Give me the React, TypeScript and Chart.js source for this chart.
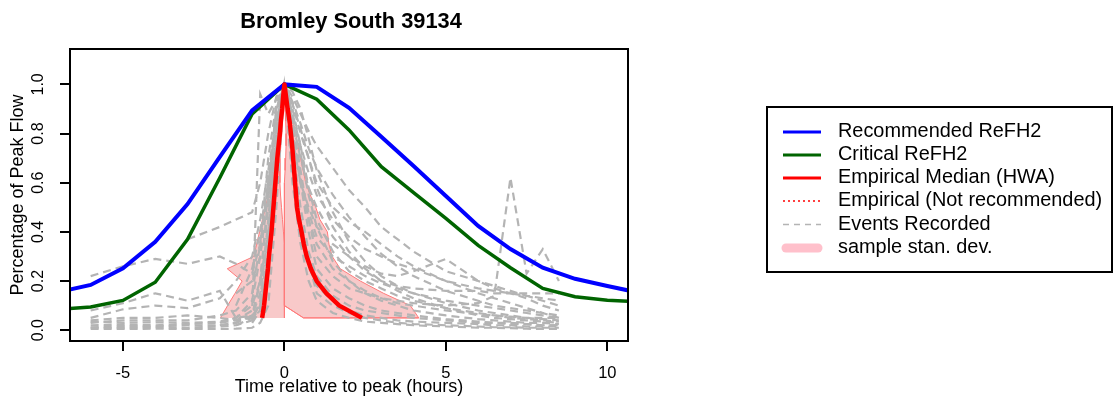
import React, { useEffect, useRef } from "react";
import { Chart, registerables } from "chart.js";

Chart.register(...registerables);

const FONT = "'Liberation Sans', Arial, Helvetica, sans-serif";

// ---- text ----
const chartTitle = "Bromley South 39134";
const xAxisTitle = "Time relative to peak (hours)";
const yAxisTitle = "Percentage of Peak Flow";
const xTicks = [-5, 0, 5, 10];
const xTickLabels = ["-5", "0", "5", "10"];
const yTicks = [0, 0.2, 0.4, 0.6, 0.8, 1.0];
const yTickLabels = ["0.0", "0.2", "0.4", "0.6", "0.8", "1.0"];
const legendLabels = [
  "Recommended ReFH2",
  "Critical ReFH2",
  "Empirical Median (HWA)",
  "Empirical (Not recommended)",
  "Events Recorded",
  "sample stan. dev.",
];

// ---- ReFH2 hydrographs ----
const refhHours = [-7, -6, -5, -4, -3, -2, -1, 0, 1, 2, 3, 4, 5, 6, 7, 8, 9, 10, 11];
const recommendedRefh2 = [0.155, 0.184, 0.252, 0.36, 0.513, 0.705, 0.894, 1.0, 0.99, 0.905, 0.787, 0.668, 0.546, 0.424, 0.33, 0.254, 0.209, 0.18, 0.152];
const criticalRefh2 = [0.085, 0.094, 0.121, 0.195, 0.37, 0.62, 0.88, 1.0, 0.94, 0.815, 0.665, 0.56, 0.455, 0.345, 0.254, 0.17, 0.136, 0.122, 0.115];

// ---- empirical median (width at each flow level) ----
const levels = [0.05, 0.1, 0.15, 0.2, 0.25, 0.3, 0.35, 0.4, 0.45, 0.5, 0.55, 0.6, 0.65, 0.7, 0.75, 0.8, 0.85, 0.9, 0.95, 1.0];
const medianLeft = [-0.69, -0.63, -0.59, -0.55, -0.51, -0.48, -0.44, -0.4, -0.37, -0.34, -0.31, -0.28, -0.25, -0.22, -0.18, -0.14, -0.11, -0.07, -0.04, 0];
const medianRight = [2.4, 1.7, 1.3, 1.0, 0.82, 0.69, 0.6, 0.53, 0.45, 0.39, 0.36, 0.33, 0.3, 0.27, 0.24, 0.2, 0.16, 0.1, 0.05, 0];
const sdLeftOuter = [-1.98, -1.76, -1.53, -1.31, -1.77, -0.95, -0.86, -0.77, -0.68, -0.59, -0.5, -0.42, -0.36, -0.3, -0.25, -0.2, -0.15, -0.1, -0.05, 0];
const sdLeftInner = [0, 0, 0, 0, 0, 0, 0, -0.03, -0.06, -0.09, -0.12, -0.14, -0.14, -0.14, -0.11, -0.08, -0.07, -0.04, -0.02, 0];
const sdRightOuter = [4.16, 3.9, 3.07, 2.35, 1.73, 1.48, 1.38, 1.33, 1.1, 0.97, 0.8, 0.66, 0.58, 0.5, 0.42, 0.35, 0.27, 0.18, 0.1, 0];
const sdRightInner = [0.59, 0, 0, 0, 0, 0, 0, 0, 0, 0, 0, 0, 0.02, 0.04, 0.05, 0.05, 0.04, 0.02, 0.01, 0];

// ---- recorded events ----
const eventHours = [-6, -5, -4, -3, -2, -1.5, -1, -0.75, -0.5, -0.25, 0, 0.25, 0.5, 0.75, 1, 1.5, 2, 2.5, 3, 3.5, 4, 5, 6, 6.5, 7, 7.5, 8, 8.5];
const event01 = [0.01, 0.01, 0.012, 0.01, 0.015, 0.02, 0.04, 0.12, 0.45, 0.85, 1, 0.7, 0.45, 0.28, 0.15, 0.1, 0.07, 0.05, 0.04, 0.03, 0.025, 0.02, 0.015, 0.012, 0.012, 0.01, 0.01, 0.01];
const event02 = [0.02, 0.022, 0.02, 0.025, 0.03, 0.04, 0.08, 0.96, 0.88, 0.94, 1, 0.82, 0.6, 0.4, 0.25, 0.17, 0.13, 0.1, 0.08, 0.07, 0.06, 0.045, 0.035, 0.03, 0.03, 0.025, 0.02, 0.02];
const event03 = [0.035, 0.03, 0.032, 0.03, 0.035, 0.05, 0.1, 0.2, 0.4, 0.75, 1, 0.9, 0.75, 0.58, 0.45, 0.32, 0.24, 0.2, 0.17, 0.14, 0.12, 0.09, 0.07, 0.06, 0.05, 0.045, 0.04, 0.035];
const event04 = [0.05, 0.085, 0.1, 0.09, 0.13, 0.2, 0.3, 0.45, 0.65, 0.85, 1, 0.92, 0.8, 0.7, 0.6, 0.5, 0.44, 0.4, 0.35, 0.3, 0.26, 0.2, 0.15, 0.13, 0.11, 0.09, 0.07, 0.05];
const event05 = [0.22, 0.26, 0.29, 0.27, 0.3, 0.27, 0.23, 0.35, 0.6, 0.88, 1, 0.85, 0.7, 0.58, 0.5, 0.38, 0.3, 0.24, 0.2, 0.18, 0.17, 0.16, 0.16, 0.15, 0.15, 0.15, 0.15, 0.15];
const event06 = [null, null, null, 0.37, 0.42, 0.45, 0.48, 0.6, 0.8, 0.95, 1, 0.88, 0.75, 0.64, 0.55, 0.45, 0.38, 0.33, 0.3, 0.27, 0.25, 0.2, 0.17, 0.16, 0.15, 0.14, 0.12, 0.1];
const event07 = [0.08, 0.11, 0.15, 0.12, 0.16, 0.05, 0.06, 0.1, 0.35, 0.7, 1, 0.75, 0.5, 0.32, 0.22, 0.14, 0.1, 0.08, 0.07, 0.06, 0.05, 0.04, 0.03, 0.03, 0.025, 0.025, 0.02, 0.02];
const event08 = [null, null, null, null, 0.02, 0.03, 0.06, 0.15, 0.4, 0.8, 1, 0.8, 0.6, 0.45, 0.35, 0.25, 0.2, 0.16, 0.13, 0.12, 0.11, 0.1, 0.11, 0.14, 0.62, 0.23, 0.33, 0.2];
const event09 = [null, null, null, null, null, 0.1, 0.25, 0.4, 0.6, 0.85, 1, 0.95, 0.88, 0.81, 0.75, 0.66, 0.57, 0.5, 0.42, 0.37, 0.32, 0.24, 0.2, 0.18, 0.16, 0.14, 0.13, 0.12];
const event10 = [null, null, null, null, 0.03, 0.05, 0.12, 0.3, 0.6, 0.9, 1, 0.78, 0.6, 0.5, 0.42, 0.35, 0.3, 0.26, 0.23, 0.22, 0.24, 0.29, 0.2, 0.17, 0.15, 0.13, 0.1, 0.08];
const event11 = [0.04, 0.05, 0.05, 0.06, 0.05, 0.04, 0.05, 0.08, 0.25, 0.6, 1, 0.6, 0.35, 0.2, 0.12, 0.07, 0.05, 0.035, 0.03, 0.025, 0.02, 0.015, 0.01, 0.01, 0.008, 0.006, 0.005, 0.005];
const event12 = [null, null, null, null, null, 0.02, 0.05, 0.2, 0.5, 0.8, 1, 0.85, 0.65, 0.45, 0.3, 0.22, 0.17, 0.15, 0.13, 0.11, 0.1, 0.08, 0.065, 0.06, 0.055, 0.05, 0.05, 0.05];
const event13 = [0.005, 0.005, 0.006, 0.005, 0.005, 0.006, 0.01, 0.03, 0.1, 0.5, 1, 0.65, 0.4, 0.26, 0.18, 0.12, 0.08, 0.06, 0.05, 0.04, 0.035, 0.03, 0.025, 0.02, 0.02, 0.015, 0.015, 0.015];
const event14 = [null, null, null, null, null, null, 0.03, 0.08, 0.3, 0.7, 1, 0.8, 0.62, 0.48, 0.38, 0.3, 0.26, 0.22, 0.19, 0.17, 0.15, 0.12, 0.1, 0.09, 0.08, 0.07, 0.06, 0.05];
const event15 = [0.012, 0.015, 0.015, 0.02, 0.02, 0.03, 0.06, 0.2, 0.55, 0.9, 1, 0.92, 0.82, 0.7, 0.58, 0.42, 0.32, 0.25, 0.2, 0.16, 0.13, 0.09, 0.06, 0.05, 0.045, 0.04, 0.035, 0.03];
const event16 = [null, null, null, null, null, null, 0.04, 0.1, 0.25, 0.65, 1, 0.97, 0.9, 0.78, 0.65, 0.48, 0.36, 0.28, 0.22, 0.18, 0.15, 0.11, 0.08, 0.07, 0.06, 0.05, 0.045, 0.04];
const event17 = [0.03, 0.04, 0.04, 0.04, 0.06, 0.08, 0.15, 0.35, 0.7, 0.92, 1, 0.88, 0.72, 0.55, 0.42, 0.28, 0.2, 0.15, 0.12, 0.1, 0.08, 0.06, 0.045, 0.04, 0.035, 0.03, 0.03, 0.025];
const event18 = [null, null, null, null, null, 0.15, 0.2, 0.3, 0.55, 0.82, 1, 0.93, 0.84, 0.74, 0.66, 0.55, 0.46, 0.38, 0.31, 0.26, 0.22, 0.16, 0.12, 0.1, 0.09, 0.08, 0.07, 0.06];
const events = [event01, event02, event03, event04, event05, event06, event07, event08, event09, event10, event11, event12, event13, event14, event15, event16, event17, event18];

// ---- axis ranges ----
const xMin = -6.64;
const xMax = 10.64;
const yMin = -0.044;
const yMax = 1.144;

type P = { x: number; y: number };
const pairs = (xs: (number | null)[], ys: (number | null)[]): P[] =>
  xs
    .map((x, i) => ({ x: x as number, y: ys[i] as number }))
    .filter((p) => p.x !== null && p.y !== null && p.x !== undefined && p.y !== undefined);

const COLORS = {
  blue: "#0000FF",
  green: "#006400",
  red: "#FF0000",
  grey: "#B4B4B4",
  pinkFill: "rgba(235,100,100,0.35)",
  pinkEdge: "#FF7A7A",
  pinkLegend: "#FFC0CB",
};

const decorPlugin = {
  id: "decor",
  afterDatasetsDraw(chart: any) {
    const { ctx, chartArea: a } = chart;
    ctx.save();
    ctx.strokeStyle = "#000";
    ctx.lineWidth = 2;
    ctx.strokeRect(a.left, a.top, a.right - a.left, a.bottom - a.top);
    ctx.restore();
  },
  afterDraw(chart: any) {
    const { ctx, chartArea: a } = chart;
    ctx.save();
    // title
    ctx.fillStyle = "#000";
    ctx.font = `bold 21.8px ${FONT}`;
    ctx.textAlign = "center";
    ctx.textBaseline = "alphabetic";
    ctx.fillText(chartTitle, (a.left + a.right) / 2 + 2, 28);

    // legend
    const bx = 767, by = 107, bw = 345, bh = 165;
    ctx.strokeStyle = "#000";
    ctx.lineWidth = 2;
    ctx.strokeRect(bx, by, bw, bh);
    const rowY = [132, 155, 178, 201, 224.5, 248];
    const x0 = 783, x1 = 821;
    const styles = [
      { color: COLORS.blue, width: 3, dash: [] as number[], cap: "butt" },
      { color: COLORS.green, width: 3, dash: [], cap: "butt" },
      { color: COLORS.red, width: 3, dash: [], cap: "butt" },
      { color: COLORS.red, width: 1.5, dash: [2, 3], cap: "butt" },
      { color: COLORS.grey, width: 1.5, dash: [6, 5], cap: "butt" },
      { color: COLORS.pinkLegend, width: 9, dash: [], cap: "round" },
    ];
    styles.forEach((s, i) => {
      ctx.beginPath();
      ctx.strokeStyle = s.color;
      ctx.lineWidth = s.width;
      ctx.setLineDash(s.dash);
      ctx.lineCap = s.cap;
      if (s.cap === "round") {
        ctx.moveTo(x0 + 3, rowY[i]);
        ctx.lineTo(x1 - 3, rowY[i]);
      } else {
        ctx.moveTo(x0, rowY[i]);
        ctx.lineTo(x1, rowY[i]);
      }
      ctx.stroke();
    });
    ctx.setLineDash([]);
    ctx.fillStyle = "#000";
    ctx.font = `19.9px ${FONT}`;
    ctx.textAlign = "left";
    ctx.textBaseline = "middle";
    legendLabels.forEach((t, i) => ctx.fillText(t, 838, rowY[i]));
    ctx.restore();
  },
};

export default function App() {
  const ref = useRef<HTMLCanvasElement>(null);

  useEffect(() => {
    const medianPts: P[] = [
      ...pairs(medianLeft, levels),
      ...pairs(medianRight, levels).reverse().slice(1),
    ];
    const leftPoly: P[] = [
      ...pairs(sdLeftOuter, levels),
      ...pairs(sdLeftInner, levels).reverse(),
    ];
    const rInner = pairs(sdRightInner, levels);
    const rOuter = pairs(sdRightOuter, levels);
    const rightPoly: P[] = [
      rInner[1],
      rInner[0],
      rOuter[0],
      ...rOuter.slice(1),
      ...rInner.slice(1).reverse().slice(1),
      rInner[1],
      rInner[0],
      rOuter[0],
    ];

    const base = { pointRadius: 0, pointHoverRadius: 0, tension: 0, fill: false };

    const datasets: any[] = [
      { ...base, label: legendLabels[2], data: medianPts, borderColor: COLORS.red, borderWidth: 4.5, order: 0, borderJoinStyle: "round" },
      { ...base, label: legendLabels[0], data: pairs(refhHours, recommendedRefh2), borderColor: COLORS.blue, borderWidth: 4, order: 1 },
      { ...base, label: legendLabels[1], data: pairs(refhHours, criticalRefh2), borderColor: COLORS.green, borderWidth: 3.5, order: 2 },
      ...events.map((ev, i) => ({
        ...base,
        label: `${legendLabels[4]} ${i + 1}`,
        data: pairs(eventHours, ev),
        borderColor: COLORS.grey,
        borderWidth: 2.2,
        borderDash: [8, 5],
        order: 3,
      })),
      { ...base, label: legendLabels[5], data: leftPoly, borderColor: COLORS.pinkEdge, backgroundColor: COLORS.pinkFill, borderWidth: 1, fill: "shape", order: 4 },
      { ...base, label: legendLabels[5] + " (right)", data: rightPoly, borderColor: COLORS.pinkEdge, backgroundColor: COLORS.pinkFill, borderWidth: 1, fill: "shape", order: 4 },
    ];

    const chart = new Chart(ref.current as HTMLCanvasElement, {
      type: "line",
      data: { datasets },
      plugins: [decorPlugin],
      options: {
        animation: false,
        responsive: false,
        devicePixelRatio: 1,
        events: [],
        layout: { padding: { left: 0, top: 49, right: 488, bottom: 0 } },
        plugins: {
          legend: { display: false },
          title: { display: false },
          tooltip: { enabled: false },
        },
        scales: {
          x: {
            type: "linear",
            position: "bottom",
            min: xMin,
            max: xMax,
            border: { display: false },
            grid: { display: true, drawOnChartArea: false, drawTicks: true, tickLength: 10, color: "#000", lineWidth: 2 },
            afterBuildTicks: (s: any) => {
              s.ticks = xTicks.map((v) => ({ value: v }));
            },
            afterFit: (s: any) => {
              s.height = 69;
            },
            ticks: {
              color: "#000",
              font: { family: FONT, size: 16.5 },
              padding: 13,
              maxRotation: 0,
              minRotation: 0,
              callback: (v: any) => {
                const i = xTicks.indexOf(Number(v));
                return i >= 0 ? xTickLabels[i] : "";
              },
            },
            title: {
              display: true,
              text: xAxisTitle,
              color: "#000",
              font: { family: FONT, size: 18 },
              padding: { top: 0, bottom: 12 },
            },
          },
          y: {
            type: "linear",
            position: "left",
            min: yMin,
            max: yMax,
            border: { display: false },
            grid: { display: true, drawOnChartArea: false, drawTicks: true, tickLength: 10, color: "#000", lineWidth: 2 },
            afterBuildTicks: (s: any) => {
              s.ticks = yTicks.map((v) => ({ value: v }));
            },
            afterFit: (s: any) => {
              s.width = 70;
            },
            ticks: {
              color: "#000",
              font: { family: FONT, size: 16 },
              padding: 10,
              minRotation: 90,
              maxRotation: 90,
              crossAlign: "center",
              callback: (v: any) => {
                const i = yTicks.findIndex((t) => Math.abs(t - Number(v)) < 1e-9);
                return i >= 0 ? yTickLabels[i] : "";
              },
            },
            title: {
              display: true,
              text: yAxisTitle,
              color: "#000",
              font: { family: FONT, size: 18 },
              padding: { top: 7.6, bottom: 0 },
            },
          },
        },
      } as any,
    });
    return () => chart.destroy();
  }, []);

  return (
    <div style={{ position: "absolute", left: 0, top: 0, width: 1116, height: 410, background: "#fff" }}>
      <canvas ref={ref} width={1116} height={410} style={{ display: "block" }} />
    </div>
  );
}
